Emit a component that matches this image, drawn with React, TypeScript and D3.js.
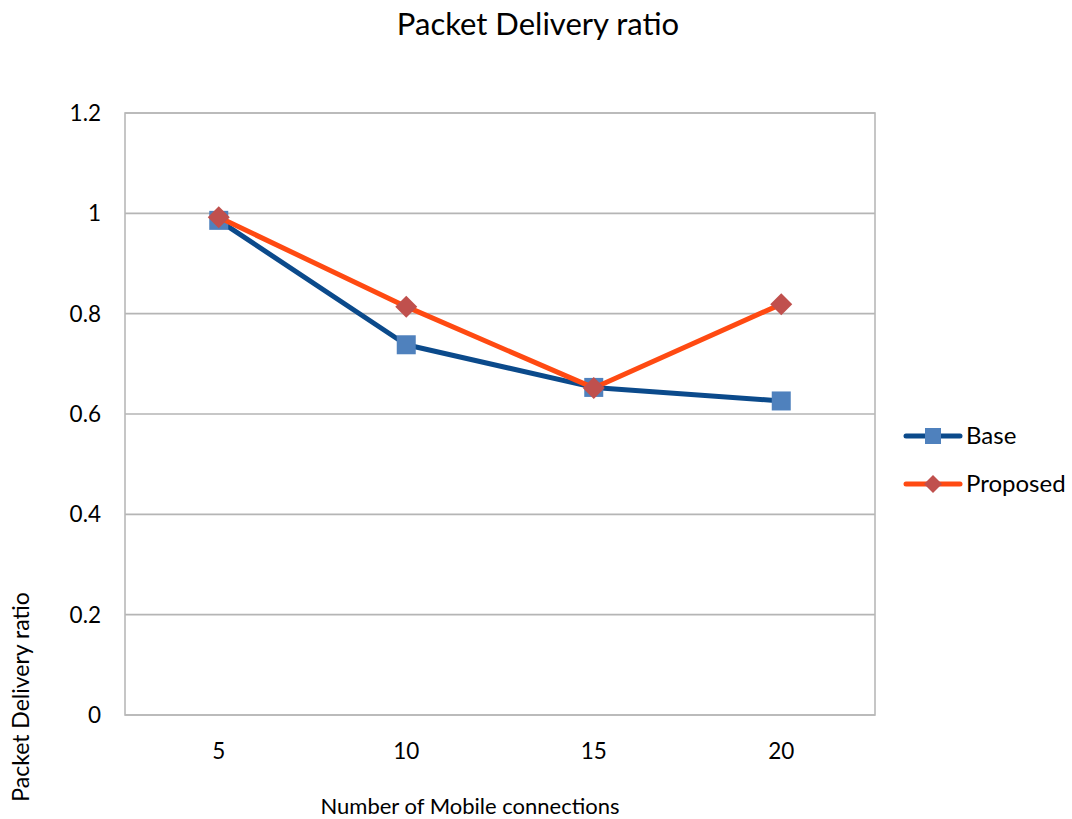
import React from "react";
import * as d3 from "d3";

const categories = ["5", "10", "15", "20"];
const baseValues = [0.986, 0.738, 0.653, 0.626];
const proposedValues = [0.992, 0.814, 0.652, 0.819];
const yTicks = [0, 0.2, 0.4, 0.6, 0.8, 1, 1.2];
const seriesNames = ["Base", "Proposed"];

const W = 1072;
const H = 819;
const plot = { left: 125, right: 875, top: 113, bottom: 715 };
const FONT = "Lato, 'Open Sans', sans-serif";

export default function App() {
  const x = d3
    .scaleBand<string>()
    .domain(categories)
    .range([plot.left, plot.right])
    .paddingInner(0)
    .paddingOuter(0);
  const cx = (c: string) => (x(c) as number) + x.bandwidth() / 2;
  const y = d3.scaleLinear().domain([0, 1.2]).range([plot.bottom, plot.top]);

  const line = d3
    .line<number>()
    .x((_, i) => cx(categories[i]))
    .y((v) => y(v));

  const baseColor = "#0b4a8b";
  const baseMarker = "#4f81bd";
  const propColor = "#ff4a12";
  const propMarker = "#c0504d";
  const sq = 19;
  const dm = 11;
  const diamond = (px: number, py: number, r: number) =>
    `M${px},${py - r}L${px + r},${py}L${px},${py + r}L${px - r},${py}Z`;

  const legendY = [436, 484];

  return (
    <svg
      width={W}
      height={H}
      style={{ position: "absolute", left: 0, top: 0, background: "#fff" }}
      fontFamily={FONT}
    >
      <rect x={0} y={0} width={W} height={H} fill="#fff" />
      <text x={538} y={35} textAnchor="middle" fontSize={31} fill="#000">
        Packet Delivery ratio
      </text>

      {/* gridlines */}
      {yTicks.map((t) => (
        <line
          key={t}
          x1={plot.left}
          x2={plot.right}
          y1={y(t)}
          y2={y(t)}
          stroke="#b5b5b5"
          strokeWidth={1.6}
        />
      ))}
      {/* plot frame */}
      <rect
        x={plot.left}
        y={plot.top}
        width={plot.right - plot.left}
        height={plot.bottom - plot.top}
        fill="none"
        stroke="#b8b8b8"
        strokeWidth={1.6}
      />

      {/* y tick labels */}
      {yTicks.map((t) => (
        <text
          key={t}
          x={101}
          y={y(t) + 8}
          textAnchor="end"
          fontSize={22.5}
          fill="#000"
        >
          {t}
        </text>
      ))}
      {/* x tick labels */}
      {categories.map((c) => (
        <text key={c} x={cx(c)} y={759} textAnchor="middle" fontSize={22.5} fill="#000">
          {c}
        </text>
      ))}

      <text x={470} y={814} textAnchor="middle" fontSize={22} fill="#000">
        Number of Mobile connections
      </text>
      <text
        transform={`translate(29,697) rotate(-90)`}
        textAnchor="middle"
        fontSize={23}
        fill="#000"
      >
        Packet Delivery ratio
      </text>

      {/* series */}
      <path
        d={line(baseValues) as string}
        fill="none"
        stroke={baseColor}
        strokeWidth={5}
        strokeLinejoin="round"
      />
      {baseValues.map((v, i) => (
        <rect
          key={i}
          x={cx(categories[i]) - sq / 2}
          y={y(v) - sq / 2}
          width={sq}
          height={sq}
          fill={baseMarker}
        />
      ))}
      <path
        d={line(proposedValues) as string}
        fill="none"
        stroke={propColor}
        strokeWidth={5}
        strokeLinejoin="round"
      />
      {proposedValues.map((v, i) => (
        <path key={i} d={diamond(cx(categories[i]), y(v), dm)} fill={propMarker} />
      ))}

      {/* legend */}
      {seriesNames.map((name, i) => {
        const ly = legendY[i];
        return (
          <g key={name}>
            <line
              x1={906}
              x2={960}
              y1={ly}
              y2={ly}
              stroke={i === 0 ? baseColor : propColor}
              strokeWidth={5}
              strokeLinecap="round"
            />
            {i === 0 ? (
              <rect x={933 - 8} y={ly - 8} width={16} height={16} fill={baseMarker} />
            ) : (
              <path d={diamond(933, ly, 9)} fill={propMarker} />
            )}
            <text x={966} y={ly + 8} fontSize={24} fill="#000">
              {name}
            </text>
          </g>
        );
      })}
    </svg>
  );
}
